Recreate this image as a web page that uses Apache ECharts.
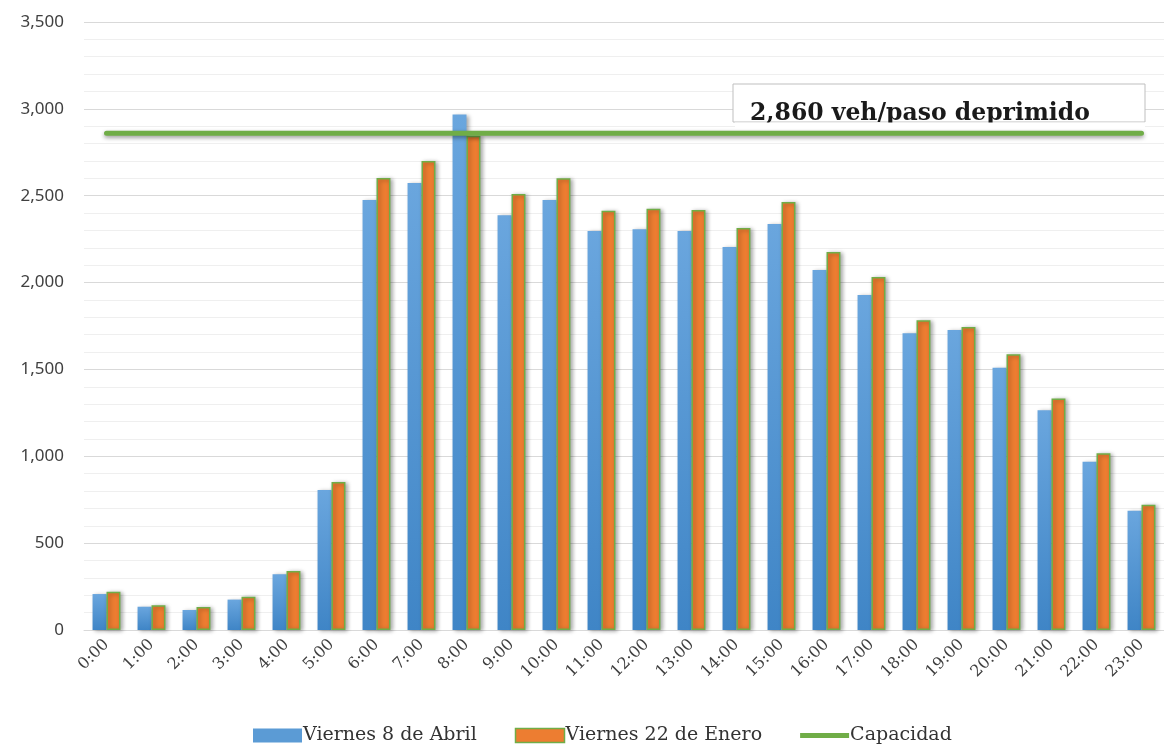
<!DOCTYPE html>
<html>
<head>
<meta charset="utf-8">
<script src="https://cdn.jsdelivr.net/npm/echarts@6/dist/echarts.min.js"></script>
<style>
  html, body { margin: 0; padding: 0; background: #fff; }
  #main { width: 1164px; height: 751px; }
</style>
</head>
<body>
<div id="main"></div>
<script>
// Horas del dia
const horas = ["0:00","1:00","2:00","3:00","4:00","5:00","6:00","7:00","8:00","9:00","10:00","11:00",
  "12:00","13:00","14:00","15:00","16:00","17:00","18:00","19:00","20:00","21:00","22:00","23:00"];

// Viernes 8 de Abril
const abril = [207,134,115,175,321,806,2476,2573,2967,2387,2476,2297,
  2307,2297,2205,2337,2072,1929,1708,1727,1510,1265,969,687];

// Viernes 22 de Enero
const enero = [220,142,132,192,340,852,2602,2700,2845,2510,2600,2414,
  2425,2418,2314,2464,2176,2032,1783,1744,1587,1332,1017,721];

// Capacidad
const capacidad = horas.map(() => 2860);

const serif = "DejaVu Serif";

document.addEventListener("DOMContentLoaded", function () {
    var chartDom = document.getElementById("main");
    var myChart = echarts.init(chartDom);

    const barShadow = {
        shadowColor: "rgba(0,0,0,0.35)",
        shadowBlur: 4,
        shadowOffsetX: 2,
        shadowOffsetY: 1
    };

    const option = {
        animation: false,
        grid: { left: 84, right: -5, top: 22, bottom: 121 },
        legend: {
            bottom: 1,
            left: 248,
            itemGap: 38,
            textStyle: { fontFamily: serif, fontSize: 19, color: "#333", padding: [0, 0, 0, -4] },
            data: [
                { name: "Viernes 8 de Abril", icon: "rect", itemStyle: { color: "#5b9bd5", borderWidth: 0 } },
                { name: "Viernes 22 de Enero", icon: "rect", itemStyle: { color: "#ed7d31", borderColor: "#70ad47", borderWidth: 1.5 } },
                { name: "Capacidad", icon: "path://M0,0M0,4.5H50V9.5H0ZM50,14", itemStyle: { color: "#70ad47", borderWidth: 0 } }
            ],
            itemWidth: 49,
            itemHeight: 14
        },
        xAxis: {
            type: "category",
            data: horas,
            axisLine: { lineStyle: { color: "#d9d9d9", width: 1 } },
            axisTick: { show: false },
            axisLabel: {
                rotate: 45,
                fontFamily: serif,
                fontSize: 16,
                color: "#404040",
                margin: 12
            }
        },
        yAxis: {
            type: "value",
            min: 0,
            max: 3500,
            interval: 500,
            axisLine: { show: false },
            axisTick: { show: false },
            axisLabel: {
                fontFamily: "Noto Sans",
                fontSize: 17,
                color: "#404040",
                margin: 20,
                formatter: v => v.toLocaleString("en-US")
            },
            splitLine: { lineStyle: { color: "#d9d9d9" } },
            minorTick: { show: false, splitNumber: 5 },
            minorSplitLine: { show: true, lineStyle: { color: "#efefef" } }
        },
        series: [
            {
                name: "Viernes 8 de Abril",
                type: "bar",
                data: abril,
                barGap: "0%",
                barCategoryGap: "38%",
                itemStyle: Object.assign({
                    color: new echarts.graphic.LinearGradient(0, 0, 0, 1, [
                        { offset: 0, color: "#6aa6de" },
                        { offset: 1, color: "#3f85c6" }
                    ])
                }, barShadow)
            },
            {
                name: "Viernes 22 de Enero",
                type: "bar",
                data: enero,
                itemStyle: Object.assign({
                    color: "#ed7d31",
                    borderColor: "#70ad47",
                    borderWidth: 1.5
                }, barShadow)
            },
            {
                name: "Capacidad",
                type: "line",
                data: capacidad,
                symbol: "none",
                z: 5,
                itemStyle: { color: "#70ad47" },
                lineStyle: {
                    color: "#70ad47",
                    width: 5,
                    cap: "round",
                    shadowColor: "rgba(0,0,0,0.4)",
                    shadowBlur: 4,
                    shadowOffsetY: 2
                }
            }
        ],
        graphic: [
            {
                type: "rect",
                z: 10,
                shape: { x: 733, y: 84, width: 412, height: 38 },
                style: { fill: "#fff", stroke: "#bfbfbf", lineWidth: 1 }
            },
            {
                type: "text",
                z: 11,
                x: 750,
                y: 102,
                style: {
                    text: "2,860 veh/paso deprimido",
                    fontFamily: serif,
                    fontWeight: "bold",
                    fontSize: 23.5,
                    fill: "#1a1a1a"
                }
            },
            {
                type: "rect",
                z: 12,
                shape: { x: 735, y: 122.5, width: 410, height: 6 },
                style: { fill: "#fff" }
            }
        ]
    };

    option && myChart.setOption(option);
});
</script>
</body>
</html>
